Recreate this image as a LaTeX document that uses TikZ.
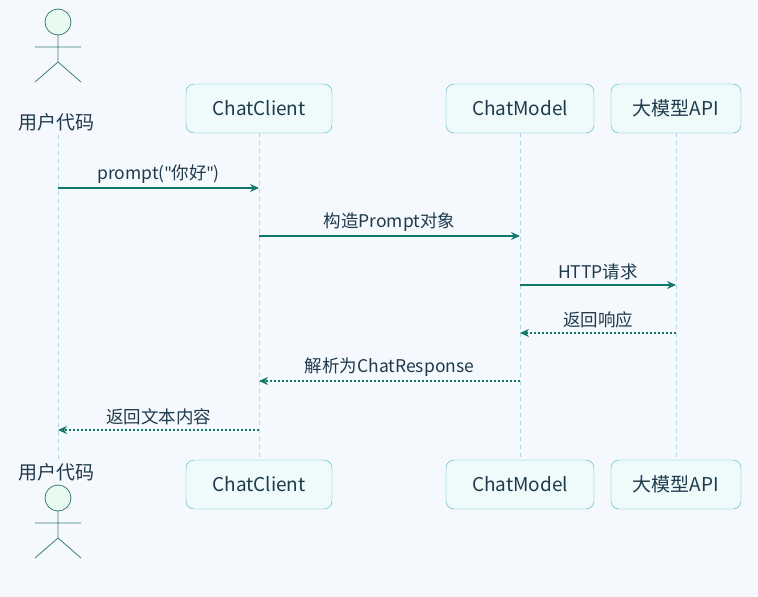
\documentclass[tikz,border=0pt]{standalone}
\usepackage{fontspec}
\setmainfont{Noto Sans CJK SC}
\newfontfamily\latq{Noto Sans}
\usetikzlibrary{arrows.meta}
\definecolor{bg}{HTML}{F5F9FD}
\definecolor{boxf}{HTML}{EFFBFB}
\definecolor{boxd}{HTML}{45B3C4}
\definecolor{arr}{HTML}{11786A}
\definecolor{txt}{HTML}{1E3A4C}
\definecolor{life}{HTML}{A9D8EC}
\definecolor{actf}{HTML}{E8FAF0}
\definecolor{actd}{HTML}{3C7F74}
\begin{document}
\begin{tikzpicture}[x=1pt,y=-1pt,
  box/.style={draw=boxd,fill=boxf,rounded corners=8pt,minimum height=49pt,text=txt,font=\fontsize{19}{22}\selectfont,inner sep=0pt},
  lbl/.style={text=txt,font=\fontsize{17.5}{20}\selectfont,inner sep=1pt},
  msg/.style={draw=arr,line width=1.3pt,-{Stealth[length=9pt,width=8pt]}},
  rep/.style={msg,dash pattern=on 2pt off 2pt},
  lifel/.style={draw=life,dash pattern=on 4pt off 4pt},
  act/.style={draw=actd,line width=0.8pt}]
\fill[bg] (0,0) rectangle (758,597);
% lifelines
\coordinate (a1) at (58,135); \coordinate (a2) at (58,460);
\draw[lifel] (a1) -- (a2);
\node[box,minimum width=146pt] (c1) at (259,108.5) {ChatClient};
\node[box,minimum width=146pt] (c2) at (259,484.5) {ChatClient};
\node[box,minimum width=148pt] (m1) at (520,108.5) {ChatModel};
\node[box,minimum width=148pt] (m2) at (520,484.5) {ChatModel};
\node[box,minimum width=130pt] (p1) at (676,108.5) {大模型API};
\node[box,minimum width=130pt] (p2) at (676,484.5) {大模型API};
\draw[lifel] (c1) -- (c2);
\draw[lifel] (m1) -- (m2);
\draw[lifel] (p1) -- (p2);
% actors
\node[lbl,font=\fontsize{19}{22}\selectfont] (u1) at (56,122) {用户代码};
\node[lbl,font=\fontsize{19}{22}\selectfont] (u2) at (56,472) {用户代码};
\foreach \y in {0,476}{
 \draw[act,fill=actf] (58,22+\y) circle (13);
 \draw[act] (58,35+\y) -- (58,62+\y) (35,47+\y) -- (81,47+\y) (58,62+\y) -- (35,82+\y) (58,62+\y) -- (81,82+\y);
}
% messages
\coordinate (s1) at (58,188); \coordinate (e1) at (259,188);
\draw[msg] (s1) -- (e1) node[lbl,midway,above=3pt] {prompt({\latq\char34}你好{\latq\char34})};
\coordinate (s2) at (259,236); \coordinate (e2) at (520,236);
\draw[msg] (s2) -- (e2) node[lbl,midway,above=3pt] {构造Prompt对象};
\coordinate (s3) at (520,285); \coordinate (e3) at (676,285);
\draw[msg] (s3) -- (e3) node[lbl,midway,above=3pt] {HTTP请求};
\coordinate (s4) at (676,333); \coordinate (e4) at (520,333);
\draw[rep] (s4) -- (e4) node[lbl,midway,above=3pt] {返回响应};
\coordinate (s5) at (520,381); \coordinate (e5) at (259,381);
\draw[rep] (s5) -- (e5) node[lbl,midway,above=3pt] {解析为ChatResponse};
\coordinate (s6) at (259,430); \coordinate (e6) at (58,430);
\draw[rep] (s6) -- (e6) node[lbl,midway,above=3pt] {返回文本内容};
\end{tikzpicture}
\end{document}
